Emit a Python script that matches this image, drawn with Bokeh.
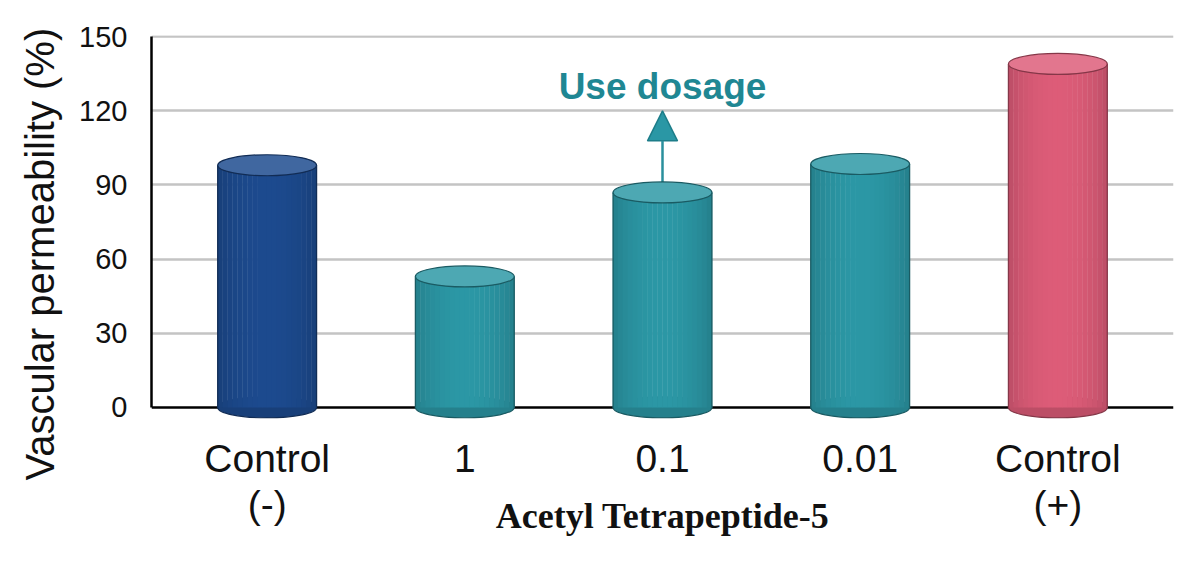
import numpy as np
from bokeh.plotting import figure
from bokeh.models import (ColumnDataSource, FactorRange, Range1d, FixedTicker,
                          Span, Arrow, NormalHead, CategoricalAxis, Title,
                          CustomJSTickFormatter)
from bokeh.transform import dodge
from bokeh.embed import file_html
from bokeh.resources import INLINE
from bokeh.core.properties import value

# ---------------- data ----------------
categories = ["Control (-)", "1", "0.1", "0.01", "Control (+)"]
tick_line1 = {"Control (-)": "Control", "1": "1", "0.1": "0.1", "0.01": "0.01",
              "Control (+)": "Control"}
tick_line2 = {"Control (-)": "(-)", "1": " ", "0.1": " ", "0.01": " ",
              "Control (+)": "(+)"}
permeability = [98, 53, 87, 98.5, 139]
base_colors = ["#1c4a8e", "#2b97a5", "#2b97a5", "#2b97a5", "#dd5c78"]
y_ticks = [0, 30, 60, 90, 120, 150]
y_title = "Vascular permeability (%)"
x_title = "Acetyl Tetrapeptide-5"
annotation_text = "Use dosage"
annotation_target = "0.1"
annotation_tip = 120
annotation_label_y = 130


def hex2rgb(h):
    h = h.lstrip("#")
    return np.array([int(h[i:i + 2], 16) for i in (0, 2, 4)], dtype=float)


def rgb2hex(c):
    c = np.clip(np.round(c), 0, 255).astype(int)
    return "#%02x%02x%02x" % tuple(c)


def shade(h, f):
    return rgb2hex(hex2rgb(h) * f)


def tint(h, a):
    c = hex2rgb(h)
    return rgb2hex(c + (255 - c) * a)


N_STRIPS = 20
BAR_W = 0.5
strip_w = BAR_W / N_STRIPS

data = dict(
    cat=categories,
    val=permeability,
    top_color=[tint(c, 0.16) for c in base_colors],
    bottom_color=[shade(c, 0.85) for c in base_colors],
    edge_color=[shade(c, 0.6) for c in base_colors],
)
for i in range(N_STRIPS):
    t = (i + 0.5) / N_STRIPS
    f = 0.74 + 0.26 * np.sin(np.pi * (0.9 * t + 0.05)) ** 0.5
    data[f"c{i}"] = [shade(c, f) for c in base_colors]
src = ColumnDataSource(data)

PX_PER_UNIT = 371 / 150.0
y_start, y_end = -4.5, 150.5
frame_h = int(round((y_end - y_start) * PX_PER_UNIT))

p = figure(
    x_range=FactorRange(*categories, range_padding=0.034),
    y_range=Range1d(y_start, y_end),
    frame_width=1022, frame_height=frame_h,
    min_border_left=150, min_border_top=35, min_border_right=14,
    min_border_bottom=10,
    output_backend="svg", toolbar_location=None,
    background_fill_color="white", border_fill_color="white",
)
p.outline_line_color = None

# grid
p.xgrid.visible = False
p.ygrid.ticker = FixedTicker(ticks=y_ticks[1:])
p.ygrid.grid_line_color = "#c4c4c4"
p.ygrid.grid_line_width = 2.5

# y axis
p.yaxis.ticker = FixedTicker(ticks=y_ticks)
p.yaxis.bounds = (0, 150)
p.yaxis.axis_line_color = "black"
p.yaxis.axis_line_width = 2.5
p.yaxis.major_tick_line_color = None
p.yaxis.minor_tick_line_color = None
p.yaxis.major_tick_out = 0
p.yaxis.major_label_standoff = 24
p.yaxis.major_label_text_font = "Liberation Sans"
p.yaxis.major_label_text_font_size = "29px"
p.yaxis.major_label_text_color = "#111111"

FMT_CODE = "return (tick in labels) ? labels[tick] : tick;"


def style_cat_axis(ax, labels, standoff):
    ax.axis_line_color = None
    ax.major_tick_line_color = None
    ax.minor_tick_line_color = None
    ax.major_tick_out = 0
    ax.major_tick_in = 0
    ax.major_label_standoff = standoff
    ax.formatter = CustomJSTickFormatter(args=dict(labels=labels), code=FMT_CODE)
    ax.major_label_text_font = "Liberation Sans"
    ax.major_label_text_font_size = "39px"
    ax.major_label_text_color = "#111111"


style_cat_axis(p.xaxis[0], tick_line1, 18)
ax2 = CategoricalAxis()
style_cat_axis(ax2, tick_line2, 0)
ax2.axis_label = x_title
ax2.axis_label_standoff = -33
ax2.axis_label_text_font = "Liberation Serif"
ax2.axis_label_text_font_style = "bold"
ax2.axis_label_text_font_size = "36px"
ax2.axis_label_text_color = "#111111"
p.add_layout(ax2, "below")

# y title
p.add_layout(Title(text=y_title, align="left", offset=-62, standoff=30,
                   text_font="Liberation Sans", text_font_style="normal",
                   text_font_size="40px", text_color="#111111"), "left")

# zero line
p.add_layout(Span(location=0, dimension="width", line_color="black",
                  line_width=2.5, level="underlay"))

# arrow (under the bars)
asrc = ColumnDataSource(dict(xs=[annotation_target],
                             ys=[permeability[categories.index(annotation_target)]],
                             ye=[annotation_tip]))
p.add_layout(Arrow(end=NormalHead(size=30, fill_color="#2a97a5", line_color="#1d7d89",
                                  line_width=1.5),
                   x_start="xs", y_start="ys", x_end="xs", y_end="ye",
                   line_color="#2a8f9c", line_width=2.5, source=asrc, level="underlay"))

# cylinders
p.ellipse(x="cat", y=0, width=BAR_W, height=21, height_units="screen",
          fill_color="bottom_color", line_color="edge_color", line_width=1.2, source=src)
for i in range(N_STRIPS):
    off = -BAR_W / 2 + (i + 0.5) * strip_w
    p.vbar(x=dodge("cat", off, range=p.x_range), top="val", bottom=0,
           width=strip_w * 1.08, fill_color=f"c{i}", line_color=None, source=src)
for side in (-BAR_W / 2, BAR_W / 2):
    p.segment(x0=dodge("cat", side, range=p.x_range), y0=0,
              x1=dodge("cat", side, range=p.x_range), y1="val",
              line_color="edge_color", line_width=1.3, source=src)
p.ellipse(x="cat", y="val", width=BAR_W, height=21, height_units="screen",
          fill_color="top_color", line_color="edge_color", line_width=1.2, source=src)

# annotation text
p.text(x=[annotation_target], y=[annotation_label_y], text=[annotation_text],
       text_align="center", text_baseline="alphabetic",
       text_font=value("Liberation Sans"), text_font_style="bold",
       text_font_size="37px", text_color="#1f8793")

open("out.html", "w").write(file_html(p, INLINE))
